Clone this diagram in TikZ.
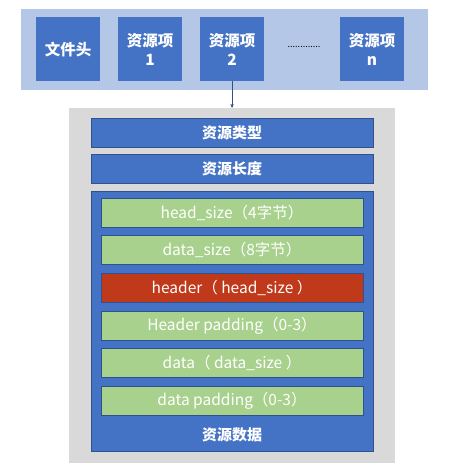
\documentclass[tikz,border=0pt]{standalone}
\usepackage{fontspec}
\newfontfamily\cjk{Noto Sans CJK SC}
\usetikzlibrary{arrows,positioning}

\definecolor{bandblue}{HTML}{B4C7E7}
\definecolor{itemblue}{HTML}{4472C4}
\definecolor{edgeblue}{HTML}{2F528F}
\definecolor{panelgray}{HTML}{D9D9D9}
\definecolor{subgreen}{HTML}{A9D18E}
\definecolor{hdrred}{HTML}{C0391B}

\begin{document}
\begin{tikzpicture}[x=1pt, y=-1pt, >=stealth', node distance=8pt, semithick,
    every node/.style={font=\cjk\fontsize{15.5}{18}\selectfont, inner sep=0pt},
    item/.style={rectangle, fill=itemblue, text=white, minimum width=64pt, minimum height=64pt, align=center,
                 font=\cjk\bfseries\fontsize{15.5}{19}\selectfont},
    field/.style={rectangle, fill=itemblue, draw=edgeblue, text=white, minimum width=282pt, minimum height=29pt,
                  font=\cjk\bfseries\fontsize{15}{17}\selectfont},
    sub/.style={rectangle, fill=subgreen, draw=edgeblue, text=white, minimum width=262pt, minimum height=29pt}]

    \useasboundingbox (0,0) rectangle (474,472);

    % file layout
    \node[fill=bandblue, minimum width=407pt, minimum height=81pt] (band) at (224.5,49.5) {};
    \node[item]             (fhead)  at (68,49)     {文件头};
    \node[item]             (res1)   at (150,49)    {资源项\\1};
    \node[item]             (res2)   at (232,49)    {资源项\\2};
    \node[font=\cjk\fontsize{9}{10}\selectfont] (dots) at (304,47) {.............};
    \node[item]             (resn)   at (372,49)    {资源项\\n};

    % one resource item
    \node[fill=panelgray, minimum width=326pt, minimum height=355pt] (panel) at (232,285.5) {};
    \node[field]                          (rtype)  at (232,132.5)  {资源类型};
    \node[field]                          (rlen)   at (232,168.5)  {资源长度};
    \node[field, minimum height=260pt]    (rdata)  at (232,321)    {};

    \node[sub]                            (hsize)  at (232,212.5)  {head\_size（4字节）};
    \node[sub]                            (dsize)  [below=of hsize] {data\_size（8字节）};
    \node[sub, fill=hdrred]               (hdr)    [below=of dsize] {header（ head\_size ）};
    \node[sub]                            (hpad)   [below=of hdr]   {Header padding（0-3）};
    \node[sub]                            (dat)    [below=of hpad]  {data（ data\_size ）};
    \node[sub]                            (dpad)   [below=of dat]   {data padding（0-3）};
    \node[text=white, font=\cjk\bfseries\fontsize{15}{17}\selectfont] (rdlabel) at (232,435) {资源数据};

    \draw[->, edgeblue, thin] (res2) -- (panel);

\end{tikzpicture}
\end{document}
